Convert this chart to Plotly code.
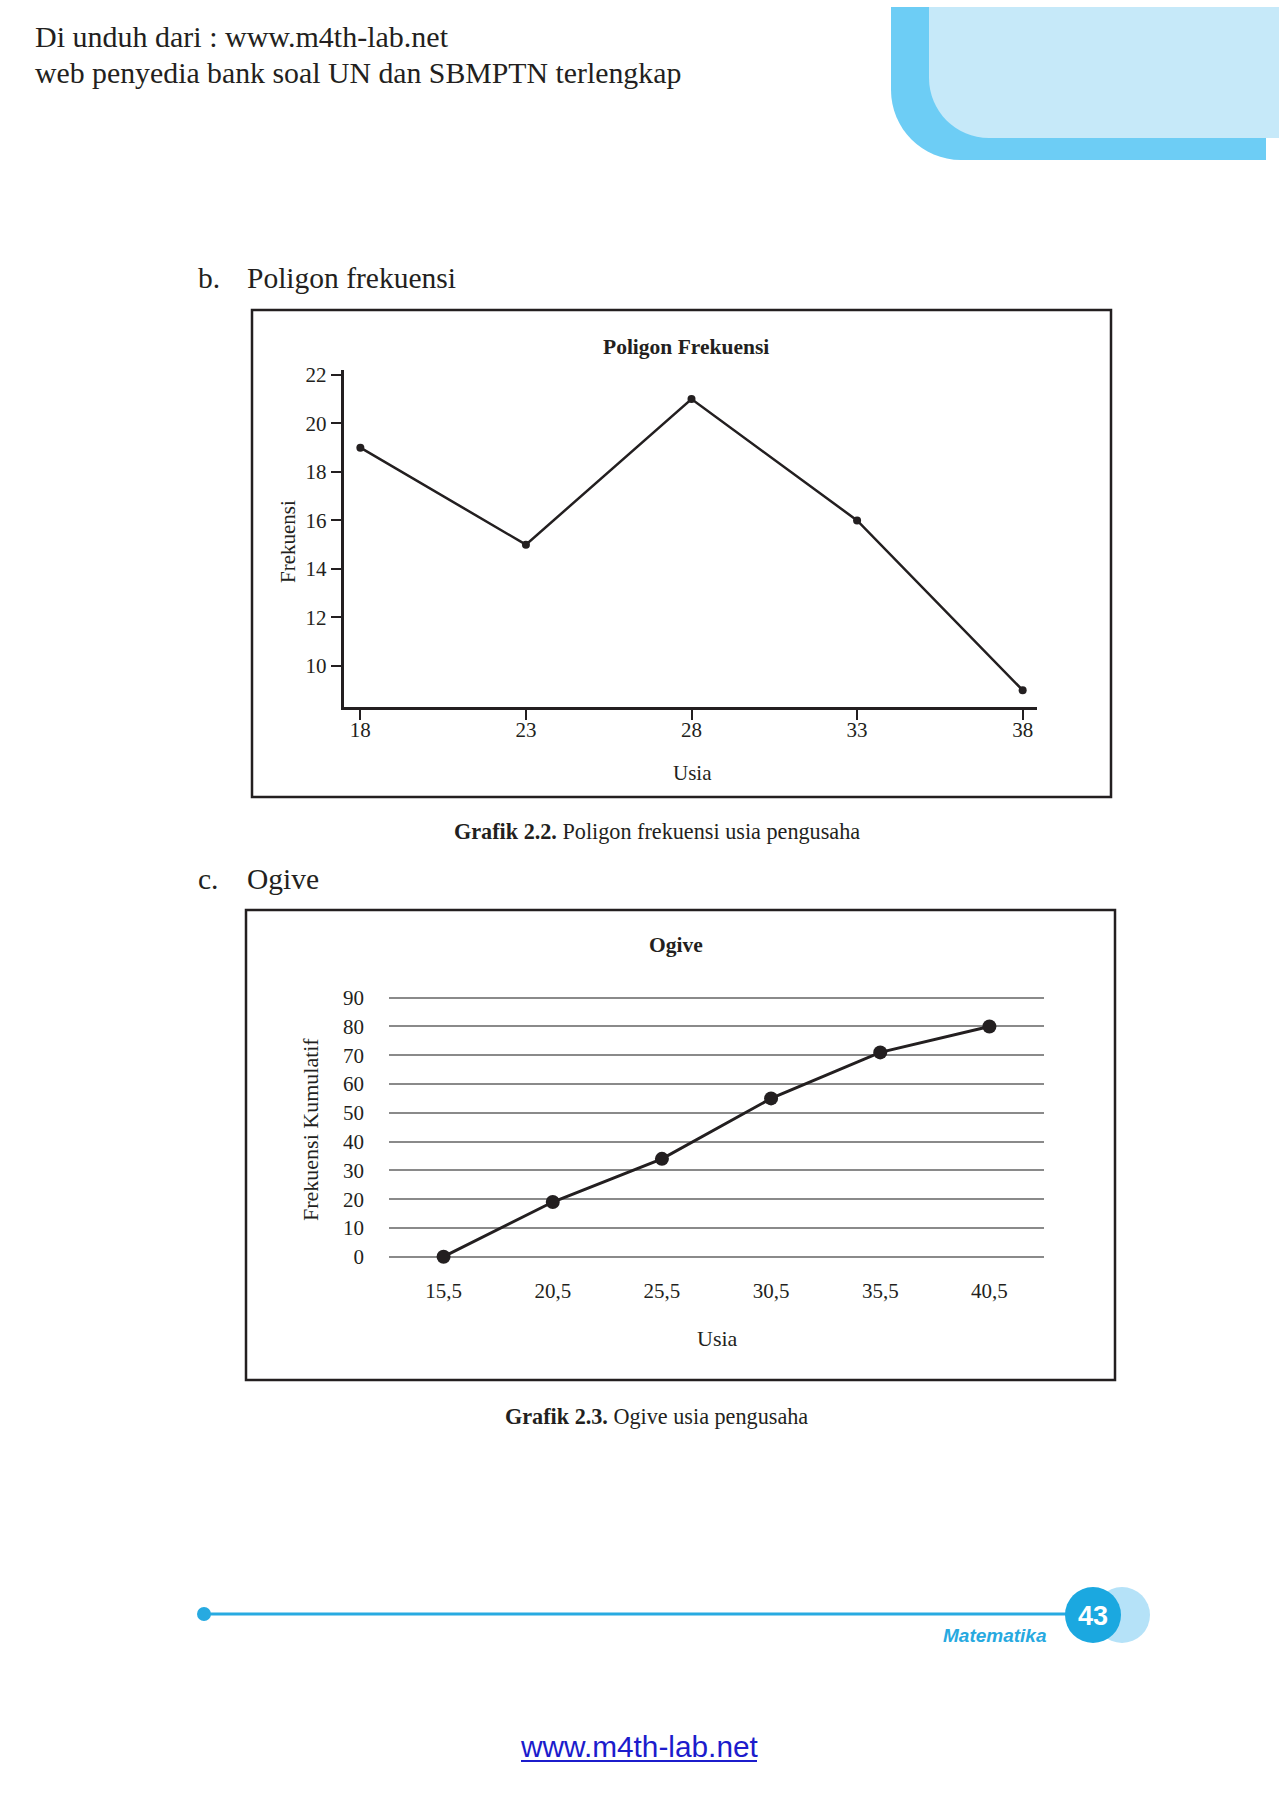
import plotly.graph_objects as go

# ---------------- data ----------------
poligon_usia = [18, 23, 28, 33, 38]
poligon_frekuensi = [19, 15, 21, 16, 9]
poligon_yticks = [10, 12, 14, 16, 18, 20, 22]

ogive_batas = ["15,5", "20,5", "25,5", "30,5", "35,5", "40,5"]
ogive_kumulatif = [0, 19, 34, 55, 71, 80]
ogive_yticks = [0, 10, 20, 30, 40, 50, 60, 70, 80, 90]

# ---------------- page geometry helpers ----------------
W, H = 1279, 1800
SERIF = "Liberation Serif, Times New Roman, serif"
SANS = "Liberation Sans, Arial, sans-serif"
INK = "#231f20"


def px(x):
    return x / W


def py(y):
    return 1 - y / H


def P(x, y):
    return f"{px(x):.5f},{py(y):.5f}"


fig = go.Figure()

fig.add_trace(go.Scatter(
    x=poligon_usia, y=poligon_frekuensi, mode="lines+markers",
    line=dict(color=INK, width=2.5), marker=dict(color=INK, size=8),
    cliponaxis=False, xaxis="x", yaxis="y", showlegend=False, hoverinfo="skip"))

fig.add_trace(go.Scatter(
    x=ogive_batas, y=ogive_kumulatif, mode="lines+markers",
    line=dict(color=INK, width=3), marker=dict(color=INK, size=14),
    cliponaxis=False, xaxis="x2", yaxis="y2", showlegend=False, hoverinfo="skip"))

tickfont = dict(family=SERIF, size=21, color=INK)

# ogive y: 0 at 1256.7px, 90 at 997.7px; pad range by 1 unit each side
og_unit = (1256.7 - 997.7) / 90.0

fig.update_layout(
    width=W, height=H, margin=dict(l=0, r=0, t=0, b=0, pad=0), autosize=False,
    paper_bgcolor="white", plot_bgcolor="rgba(0,0,0,0)",
    xaxis=dict(domain=[px(343.8), px(1036.9)], range=[17.5, 38.43], anchor="y",
               tickvals=poligon_usia, ticks="outside", ticklen=10, tickwidth=2,
               tickcolor=INK, showline=True, linewidth=3, linecolor=INK,
               showgrid=False, zeroline=False, tickfont=tickfont,
               ticklabelstandoff=-8, automargin=False),
    yaxis=dict(domain=[py(706.7), py(370)], range=[8.32, 22.2], anchor="x",
               tickvals=poligon_yticks, ticks="outside", ticklen=10, tickwidth=2,
               tickcolor=INK, showline=True, linewidth=3, linecolor=INK,
               showgrid=False, zeroline=False, tickfont=tickfont, automargin=False),
    xaxis2=dict(domain=[px(389), px(1044)], range=[-0.5, 5.5], anchor="y2",
                type="category", showline=False, showgrid=False, zeroline=False,
                ticks="", tickfont=tickfont, ticklabelstandoff=int(round(19 - og_unit)),
                automargin=False),
    yaxis2=dict(domain=[py(1256.7 + og_unit), py(997.7 - og_unit)], range=[-1, 91],
                anchor="x2", tickvals=ogive_yticks, ticks="", showline=False,
                showgrid=True, gridcolor="#8a8a8a", gridwidth=1.5,
                zeroline=False, tickfont=tickfont, ticklabelstandoff=24,
                automargin=False),
)

shapes = []
# header corner decoration
c1 = 0.5523 * 70
outer = (f"M{P(891,7)} L{P(1266,7)} L{P(1266,160)} L{P(961,160)} "
         f"C{P(961-c1,160)} {P(891,90+c1)} {P(891,90)} Z")
c2 = 0.5523 * 60
inner = (f"M{P(929,7)} L{P(1279,7)} L{P(1279,138)} L{P(989,138)} "
         f"C{P(989-c2,138)} {P(929,78+c2)} {P(929,78)} Z")
shapes.append(dict(type="path", xref="paper", yref="paper", path=outer,
                   fillcolor="#6dcdf5", line=dict(width=0), layer="below"))
shapes.append(dict(type="path", xref="paper", yref="paper", path=inner,
                   fillcolor="#c6e9f9", line=dict(width=0), layer="below"))
# chart frames
for (x0, y0, x1, y1) in [(252, 310, 1111, 797), (246, 910, 1115, 1380)]:
    shapes.append(dict(type="rect", xref="paper", yref="paper",
                       x0=px(x0), x1=px(x1), y0=py(y0), y1=py(y1),
                       line=dict(color=INK, width=2.5), fillcolor="rgba(0,0,0,0)"))
# footer
shapes.append(dict(type="line", xref="paper", yref="paper", x0=px(204), x1=px(1067),
                   y0=py(1614), y1=py(1614), line=dict(color="#27aae1", width=3)))
shapes.append(dict(type="circle", xref="paper", yref="paper", x0=px(197), x1=px(211),
                   y0=py(1607), y1=py(1621), fillcolor="#27aae1", line=dict(width=0)))
shapes.append(dict(type="circle", xref="paper", yref="paper", x0=px(1094), x1=px(1150),
                   y0=py(1587), y1=py(1643), fillcolor="#b5e2f8", line=dict(width=0)))
shapes.append(dict(type="circle", xref="paper", yref="paper", x0=px(1065), x1=px(1121),
                   y0=py(1587), y1=py(1643), fillcolor="#1ba8e0", line=dict(width=0)))
# underline of link
shapes.append(dict(type="line", xref="paper", yref="paper", x0=px(521), x1=px(757),
                   y0=py(1761), y1=py(1761), line=dict(color="#1c1ccc", width=2)))
fig.update_layout(shapes=shapes)


def ann(text, x, y, size, xanchor="center", family=SERIF, color=INK, angle=0):
    return dict(text=text, x=px(x), y=py(y), xref="paper", yref="paper",
                xanchor=xanchor, yanchor="middle", showarrow=False, textangle=angle,
                font=dict(family=family, size=size, color=color))


annotations = [
    ann("Di unduh dari : www.m4th-lab.net", 33, 36, 30, "left"),
    ann("web penyedia bank soal UN dan SBMPTN terlengkap", 33, 72, 29.8, "left"),
    ann("b.", 196, 278, 29.5, "left"),
    ann("Poligon frekuensi", 245, 278, 29.5, "left"),
    ann("<b>Poligon Frekuensi</b>", 686, 347, 21.5),
    ann("Frekuensi", 288, 542, 21, angle=-90),
    ann("Usia", 692, 773, 21),
    ann("<b>Grafik 2.2.</b> Poligon frekuensi usia pengusaha", 657, 831, 22.2),
    ann("c.", 196, 879, 29.5, "left"),
    ann("Ogive", 245, 879, 29.5, "left"),
    ann("<b>Ogive</b>", 676, 945, 21.5),
    ann("Frekuensi Kumulatif", 310, 1130, 22, angle=-90),
    ann("Usia", 717, 1338, 22),
    ann("<b>Grafik 2.3.</b> Ogive usia pengusaha", 656, 1416, 22.2),
    ann("<b>43</b>", 1093, 1616, 27, family=SANS, color="white"),
    ann("<b><i>Matematika</i></b>", 1049, 1635, 19, "right", family=SANS, color="#27a9e0"),
    ann("www.m4th-lab.net", 639, 1746, 29.8, family=SANS, color="#1c1ccc"),
]
fig.update_layout(annotations=annotations)

fig.write_html("out.html", config={"displayModeBar": False},
               post_script="document.body.style.margin='0';document.body.style.overflow='hidden';")
